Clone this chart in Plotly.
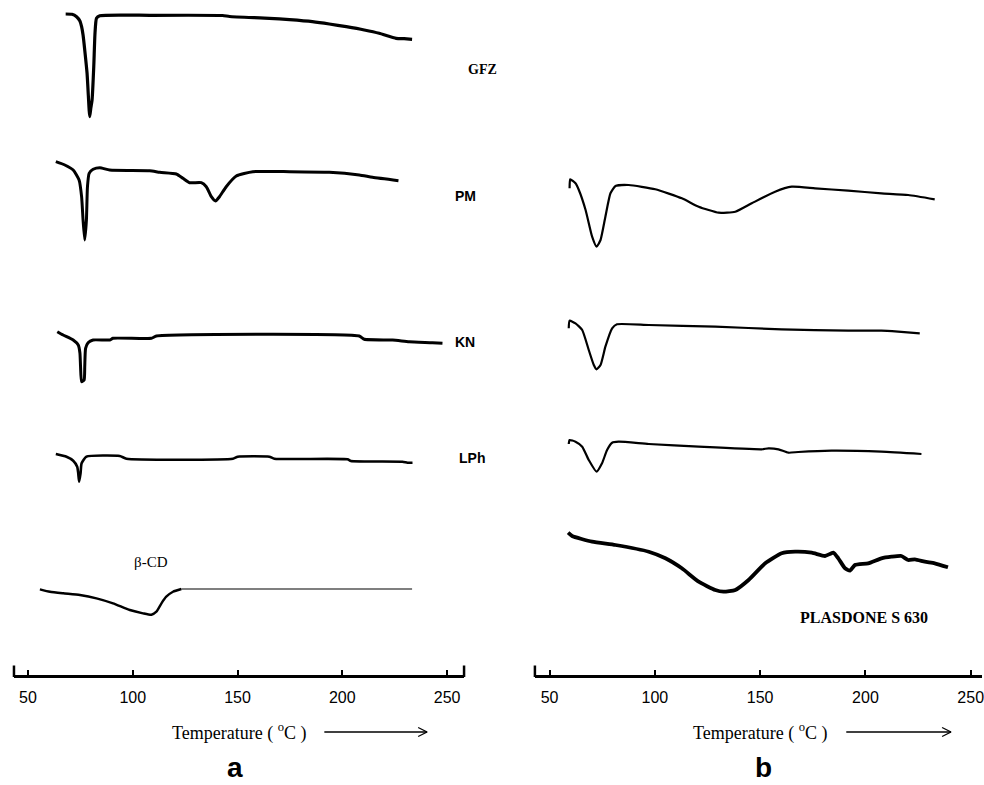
import plotly.graph_objects as go

# ---------------- DATA (temperature in °C, heat flow in a.u. relative to each curve's start) ----------------
# Panel a
gfz_T  = [68.0, 71.0, 73.2, 74.8, 75.6, 76.3, 77.1, 78.2, 79.2, 79.5, 80.0, 80.6, 81.4, 82.0, 82.7, 84.3,
          108.1, 142.9, 146.2, 165.2, 174.8, 185.7, 193.8, 201.9, 210.5, 217.6, 225.7, 229.5, 233.3]
gfz_HF = [0, -0.3, -2.7, -7, -12.7, -21, -36, -59, -96, -102.7, -94, -86, -52.7, -19, -4.3, -1.7,
          -1.3, -1.5, -2.5, -4.3, -5.7, -7.7, -10, -12.7, -16, -19.3, -24.3, -24.7, -25.3]

pm_T  = [63.3, 67.6, 71.6, 74.4, 75.6, 76.3, 77.1, 77.9, 78.4, 79.2, 81.1, 84.3, 89.0, 108.1, 112.9, 120.8,
         123.9, 127.1, 132.7, 135.1, 137.5, 139.5, 141.4, 144.6, 149.4, 157.3, 174.8, 193.8, 208.1, 214.4, 226.8]
pm_HF = [0, -3.3, -8.3, -18.3, -35, -58.3, -78.3, -58.3, -25, -11.6, -7.6, -6, -8.3, -9, -10.6, -12.3,
         -16.6, -21, -21, -25, -35, -39.3, -35, -25, -14.3, -10, -10, -10.6, -13.3, -15.6, -19]

kn_T  = [64.0, 66.8, 71.6, 74.0, 74.8, 75.1, 75.6, 76.8, 77.1, 77.5, 78.7, 81.1, 89.0, 90.6, 108.9, 111.3,
         208.1, 210.5, 224.0, 231.9, 243.0, 247.8]
kn_HF = [0, -3.3, -8.3, -13.3, -21.3, -35, -50, -48.3, -35, -16.6, -11, -8.3, -8.3, -6.6, -6.6, -4.3,
         -4.3, -7.6, -8.3, -10, -11, -11.6]

lph_T  = [63.3, 68.4, 71.6, 73.5, 74.0, 74.4, 75.1, 75.6, 77.9, 93.8, 97.0, 147.8, 150.1, 165.2, 167.6,
          202.5, 204.1, 228.7, 231.1, 233.5]
lph_HF = [0, -2.7, -6.7, -12.7, -19.3, -27.7, -19.3, -9.3, -2.7, -2, -4.7, -4.7, -2.7, -2.7, -4.7,
          -5.3, -7, -7.7, -8.7, -8.7]

bcd_T  = [55.7, 60.5, 66.8, 74.8, 82.7, 90.6, 98.6, 104.9, 108.9, 111.3, 113.7, 116.0, 119.2, 123.2]
bcd_HF = [0, -2.4, -4, -5.7, -9, -14, -20.7, -24, -25.4, -22.4, -14, -7.4, -2.4, 0.3]
bcd_flat_T  = [123.2, 233.3]
bcd_flat_HF = [0.3, 0.3]

# Panel b
pmb_T  = [59.5, 59.8, 62.3, 63.9, 67.1, 70.2, 72.3, 74.2, 76.5, 78.9, 81.3, 87.6, 100.2, 112.8, 120.8,
          130.3, 138.2, 146.0, 157.1, 165.0, 176.1, 191.8, 207.6, 220.3, 232.9]
pmb_HF = [0, 9, 5, -1.7, -21.7, -48.4, -58.4, -51.7, -28.4, -5, 2.3, 3.3, -1, -10, -18.4,
          -24.4, -23.4, -15, -3.4, 1.6, 0, -2.4, -5, -6.7, -11]

knb_T  = [59.1, 59.5, 62.3, 65.5, 68.6, 71.0, 72.3, 74.2, 76.5, 79.7, 82.0, 97.1, 128.7, 160.2, 191.8,
          207.6, 215.5, 225.8]
knb_HF = [0, 7.6, 5, -1.7, -21.7, -36.7, -41, -36.7, -18.4, 0, 4, 3.3, 1.6, -1, -2.4, -2.4, -3.4, -5]

lphb_T  = [59.1, 59.5, 62.3, 65.5, 68.6, 72.3, 74.9, 77.3, 79.7, 82.8, 97.1, 120.8, 150.8, 153.9, 158.7,
           163.4, 168.1, 183.9, 207.6, 226.6]
lphb_HF = [0, 4, 2.3, -2.7, -16, -27.7, -19.3, -6, 1.3, 2.3, 0, -2.7, -5.3, -4.3, -5.3,
           -8.7, -8, -6.7, -7.7, -10]

pls_T  = [58.8, 60.7, 70.2, 81.3, 97.1, 105.0, 112.8, 120.8, 128.7, 132.6, 138.2, 144.5, 152.4, 160.2,
          166.6, 174.5, 180.8, 184.7, 187.1, 190.3, 192.7, 195.0, 201.3, 207.6, 212.4, 217.1, 220.3,
          223.5, 228.2, 232.9, 239.2]
pls_HF = [0, -3.3, -9, -12.3, -19, -25.6, -35.6, -49, -57.3, -59, -57.3, -47.3, -30.6, -20.6,
          -19, -20, -23.3, -20, -25.6, -35.6, -38, -32.3, -30.6, -25.6, -24, -23.3, -27.3,
          -26.6, -29, -30.6, -34.6]

# vertical stacking offsets of the thermograms (a.u.)
OFFSETS = {"GFZ": -14, "PM": -161.7, "KN": -331.7, "LPh": -454, "bCD": -589.3,
           "PMb": -188.3, "KNb": -328.3, "LPhb": -444, "PLS": -532.7}

tick_vals = [50, 100, 150, 200, 250]
tick_text = ["50", "100", "150", "200", "250"]

# ---------------- FIGURE ----------------
W, H = 984, 785
fig = go.Figure()

def add(T, HF, key, axis, width):
    fig.add_trace(go.Scatter(
        x=T, y=[OFFSETS[key] + v for v in HF], mode="lines",
        line=dict(color="black", width=width, shape="spline", smoothing=0.5),
        xaxis=axis, yaxis="y", showlegend=False, hoverinfo="skip"))

add(gfz_T, gfz_HF, "GFZ", "x", 3.2)
add(pm_T, pm_HF, "PM", "x", 3)
add(kn_T, kn_HF, "KN", "x", 3)
add(lph_T, lph_HF, "LPh", "x", 2.6)
add(bcd_T, bcd_HF, "bCD", "x", 2.4)
add(bcd_flat_T, bcd_flat_HF, "bCD", "x", 1.2)

add(pmb_T, pmb_HF, "PMb", "x2", 2.2)
add(knb_T, knb_HF, "KNb", "x2", 2.2)
add(lphb_T, lphb_HF, "LPhb", "x2", 2.2)
add(pls_T, pls_HF, "PLS", "x2", 3.8)

axis_pos = 1 - 675.5 / H
xa_common = dict(
    anchor="free", position=axis_pos, showgrid=False, zeroline=False,
    showline=True, linecolor="black", linewidth=3,
    ticks="inside", ticklen=5, tickwidth=1.5, tickcolor="black",
    tickmode="array", tickvals=tick_vals, ticktext=tick_text,
    tickfont=dict(family="Liberation Sans, Arial, sans-serif", size=16, color="black"),
    ticklabelstandoff=6, ticklabeloverflow="allow", fixedrange=True,
)
fig.update_layout(
    width=W, height=H,
    margin=dict(l=0, r=0, t=0, b=0),
    paper_bgcolor="white", plot_bgcolor="white",
    xaxis=dict(domain=[14 / W, 465 / W], range=[43.33, 258.1], **xa_common),
    xaxis2=dict(domain=[536 / W, 1.0], range=[43.03, 255.36], **xa_common),
    yaxis=dict(domain=[0, 1], range=[-H, 0], visible=False, fixedrange=True),
)

# end caps of the temperature axes
cap_h = 10 / H
for xr, xx in (("x domain", 0), ("x domain", 1), ("x2 domain", 0)):
    fig.add_shape(type="line", xref=xr, yref="paper", x0=xx, x1=xx,
                  y0=axis_pos - 1.5 / H, y1=axis_pos + cap_h, line=dict(color="black", width=2.5))

def px(x, y):
    return x / W, 1 - y / H

serif = "Liberation Serif, Times New Roman, serif"
sans = "Liberation Sans, Arial, sans-serif"
labels = [
    ("GFZ", 483, 70, serif, 14, True),
    ("PM", 466, 196, sans, 14, True),
    ("KN", 466, 342, sans, 14, True),
    ("LPh", 473, 458, sans, 14, True),
    ("β-CD", 151, 562, serif, 15, False),
    ("PLASDONE S 630", 866, 617, serif, 16, True),
]
for txt, x, y, fam, size, bold in labels:
    xx, yy = px(x, y)
    fig.add_annotation(x=xx, y=yy, xref="paper", yref="paper", showarrow=False,
                       text=f"<b>{txt}</b>" if bold else txt,
                       font=dict(family=fam, size=size, color="black"),
                       xanchor="center", yanchor="middle")

# axis titles with arrows (arrow drawn as shapes)
for cx, a0, a1 in ((239, 325, 428), (762, 848, 953)):
    xx, yy = px(cx, 732)
    fig.add_annotation(x=xx, y=yy, xref="paper", yref="paper", showarrow=False,
                       text="Temperature ( <sup>o</sup>C )",
                       font=dict(family=serif, size=18, color="black"),
                       xanchor="center", yanchor="middle")
    p0 = px(a0, 732)
    p1 = px(a1, 732)
    fig.add_shape(type="line", xref="paper", yref="paper", x0=p0[0], y0=p0[1], x1=p1[0], y1=p1[1],
                  line=dict(color="black", width=1.3))
    for dy in (-4.5, 4.5):
        q = px(a1 - 9, 732 + dy)
        fig.add_shape(type="line", xref="paper", yref="paper", x0=q[0], y0=q[1], x1=p1[0], y1=p1[1],
                      line=dict(color="black", width=1.3))

# panel letters
for letter, x in (("a", 235), ("b", 765)):
    xx, yy = px(x, 767)
    fig.add_annotation(x=xx, y=yy, xref="paper", yref="paper", showarrow=False,
                       text=f"<b>{letter}</b>",
                       font=dict(family=sans, size=28, color="black"),
                       xanchor="center", yanchor="middle")

fig.write_html("out.html")
